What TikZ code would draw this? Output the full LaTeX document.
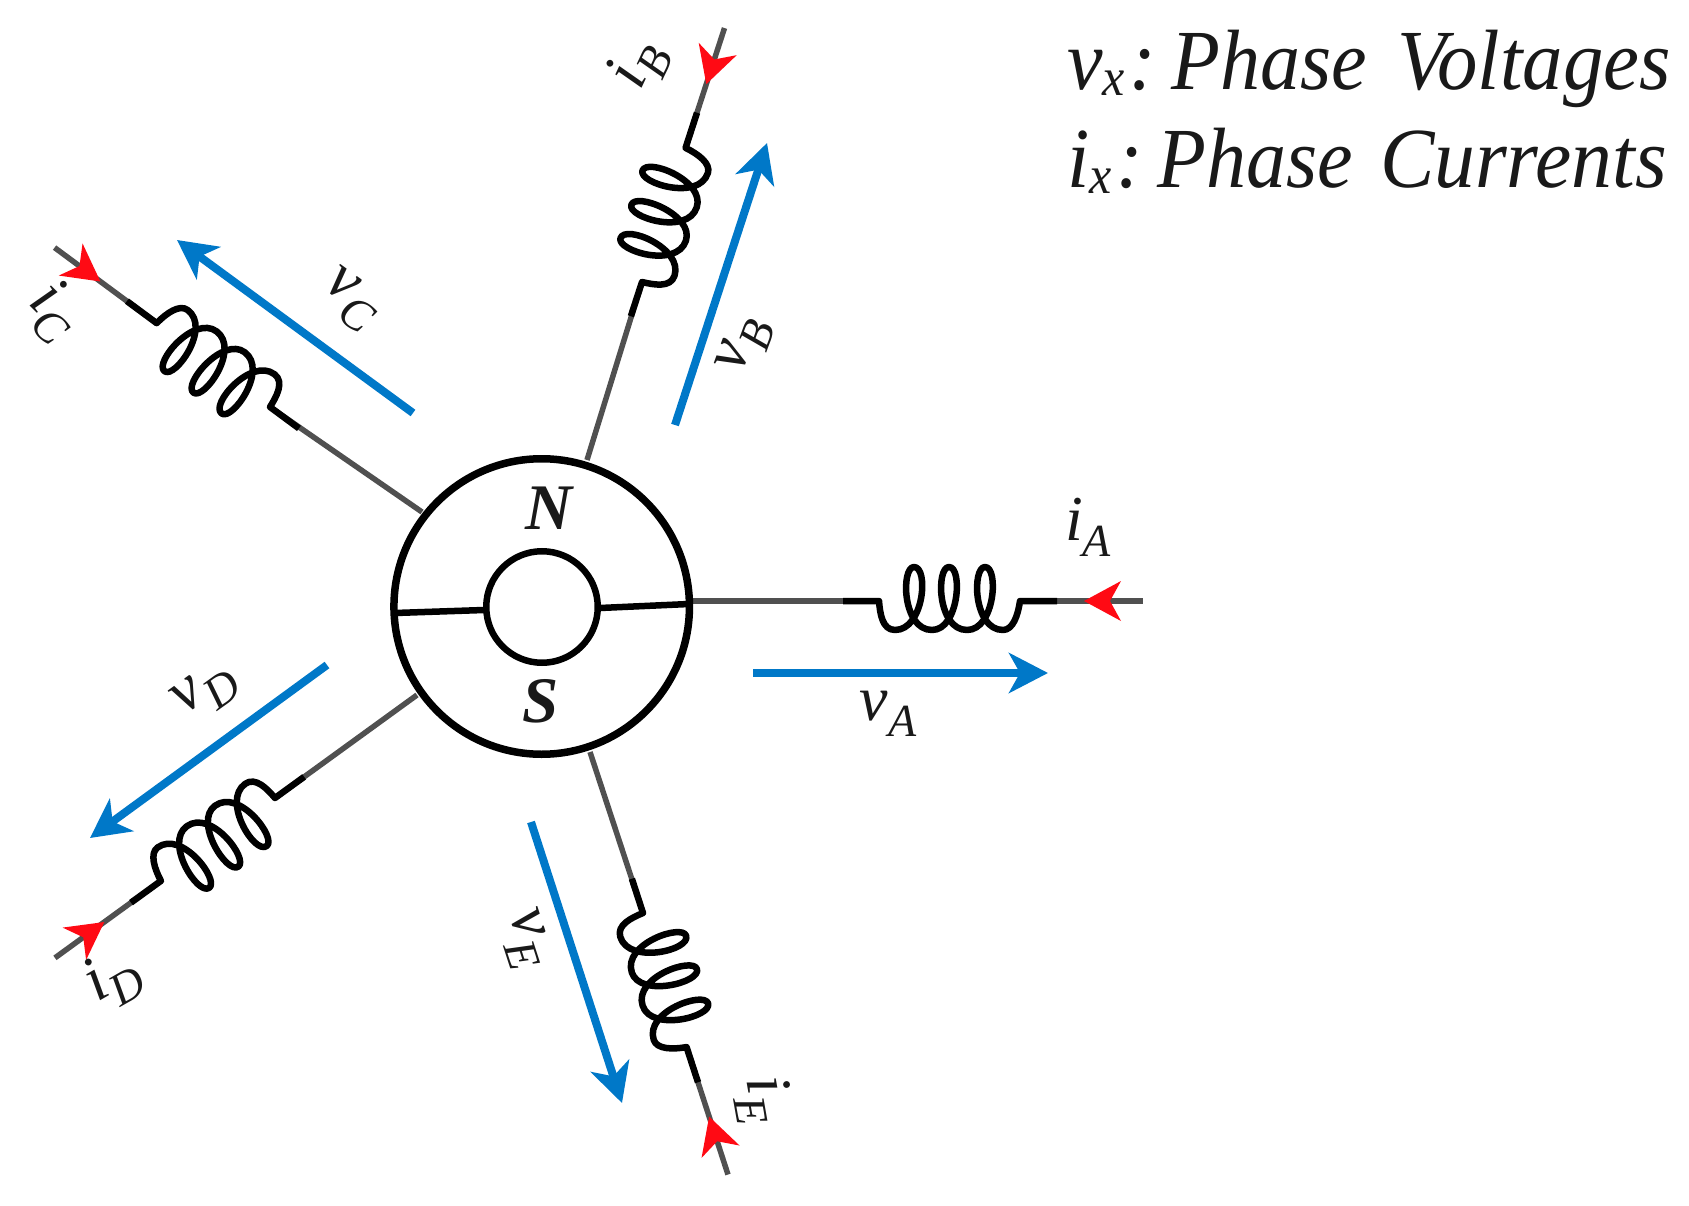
\documentclass[tikz,border=0pt]{standalone}
\usepackage{fontspec}
\setmainfont{Liberation Serif}
\usetikzlibrary{arrows.meta}
\definecolor{wiregray}{HTML}{505050}
\definecolor{voltblue}{HTML}{0078C8}
\definecolor{curred}{HTML}{FF0A14}
\tikzset{
  wire/.style={draw=wiregray,line width=5.5pt},
  blackwire/.style={draw=black,line width=6.5pt,line join=round},
  ring/.style={circle,draw=black,inner sep=0pt,outer sep=0pt},
  bar/.style={draw=black,line width=6.5pt},
  voltarrow/.style={draw=voltblue,line width=8pt,-{Stealth[length=39pt,width=40pt,inset=11pt,fill=voltblue]}},
  curhead/.style={fill=curred,draw=none},
  lbl/.style={inner sep=0pt,outer sep=0pt,text=black!90}
}
\newcommand{\mainf}{\fontsize{64}{64}\selectfont\itshape}
\newcommand{\subf}{\fontsize{46}{46}\selectfont\itshape}
\newcommand{\sublabel}[5]{% name, position, angle, main, sub
  \node[lbl,rotate=#3] (#1) at #2 {\mainf #4\raisebox{-16pt}{\subf #5}};}
% name, kink position, angle, outer length, arrow tip position
\newcommand{\phasearm}[5]{%
  \begin{scope}[shift={#2},rotate=#3]
    \coordinate (#1out) at (#4,0);
    \coordinate (#1k) at (0,0);
    \coordinate (#1kk) at (141,0);
    \draw[wire] (#1in) -- (#1k);
    \draw[wire] (#1kk) -- (#1out);
    \draw[blackwire] (-36,0) -- (#1k)
      .. controls (1,12) and (3,29) .. (16,29)
      .. controls (45,29) and (50,-34) .. (35,-34)
      .. controls (22,-34) and (23,29) .. (53,29)
      .. controls (80,29) and (84,-34) .. (70,-34)
      .. controls (57,-34) and (58,29) .. (88,29)
      .. controls (116,29) and (120,-34) .. (106,-34)
      .. controls (93,-34) and (94,29) .. (124,29)
      .. controls (134,29) and (139,14) .. (#1kk)
      -- (178,0);
    \begin{scope}[shift={(#5,0)}]
      \fill[curhead] (0,0) -- (37,-20) -- (26,0) -- (37,20) -- cycle;
    \end{scope}
  \end{scope}}
\begin{document}
\begin{tikzpicture}[x=1pt,y=-1pt]
\useasboundingbox (0,0) rectangle (1689,1206);
% inner ends of the leads, on the stator circle
\coordinate (Ain) at (693,601);
\coordinate (Bin) at (587,460);
\coordinate (Cin) at (422,512);
\coordinate (Din) at (417,695);
\coordinate (Ein) at (590,752);
\phasearm{A}{(879,601)}{0}{264}{205}
\phasearm{B}{(642,282)}{72}{267}{208}
\phasearm{C}{(270,407)}{143.5}{268}{211}
\phasearm{D}{(275,798)}{216}{272}{211}
\phasearm{E}{(643,913)}{-72}{275}{214}
% machine
\node[ring,line width=7.5pt,minimum size=295.5pt] (stator) at (541.7,606.5) {};
\node[ring,line width=6.5pt,minimum size=111.5pt] (rotor) at (542,607) {};
\coordinate (barLa) at (395,613);
\coordinate (barLb) at (484,610);
\coordinate (barRa) at (600,608);
\coordinate (barRb) at (689,604);
\draw[bar] (barLa) -- (barLb);
\draw[bar] (barRa) -- (barRb);
\node[lbl,font=\fontsize{65}{65}\selectfont\bfseries\itshape,anchor=base] (north) at (549,529) {N};
\node[lbl,font=\fontsize{65}{65}\selectfont\bfseries\itshape,anchor=base] (south) at (541,722) {S};
% voltage arrows
\coordinate (vAa) at (753,673); \coordinate (vAb) at (1048,673);
\coordinate (vBa) at (675,425); \coordinate (vBb) at (767,143);
\coordinate (vCa) at (413,413); \coordinate (vCb) at (177,240);
\coordinate (vDa) at (327,665); \coordinate (vDb) at (90,838);
\coordinate (vEa) at (531,822); \coordinate (vEb) at (622,1103);
\draw[voltarrow] (vAa) -- (vAb);
\draw[voltarrow] (vBa) -- (vBb);
\draw[voltarrow] (vCa) -- (vCb);
\draw[voltarrow] (vDa) -- (vDb);
\draw[voltarrow] (vEa) -- (vEb);
% labels
\sublabel{iA}{(1088,527)}{0}{i}{A}
\sublabel{vA}{(888,714)}{0}{v}{A}
\sublabel{iB}{(638,65)}{65}{i}{B}
\sublabel{vB}{(745,346)}{70}{v}{B}
\sublabel{iC}{(54,311)}{-45}{i}{C}
\sublabel{vC}{(350,300)}{-36}{v}{C}
\sublabel{iD}{(113,978)}{30}{i}{D}
\sublabel{vD}{(206,692)}{36}{v}{D}
\sublabel{iE}{(763,1100)}{-80}{i}{E}
\sublabel{vE}{(525,939)}{-72}{v}{E}
% legend
\node[lbl,anchor=base west] (legendv) at (1067,90) {\scalebox{1}[1.07]{\fontsize{80}{80}\selectfont\itshape \makebox[105pt][l]{v\raisebox{-5pt}{\fontsize{50}{50}\selectfont x}\kern5pt:}\makebox[225pt][l]{Phase}\scalebox{1.01}[1]{Voltages}}};
\node[lbl,anchor=base west] (legendi) at (1067,188) {\scalebox{1}[1.07]{\fontsize{80}{80}\selectfont\itshape \makebox[91pt][l]{i\raisebox{-5pt}{\fontsize{50}{50}\selectfont x}\kern5pt:}\makebox[222pt][l]{Phase}\scalebox{1.02}[1]{Currents}}};
\end{tikzpicture}
\end{document}
